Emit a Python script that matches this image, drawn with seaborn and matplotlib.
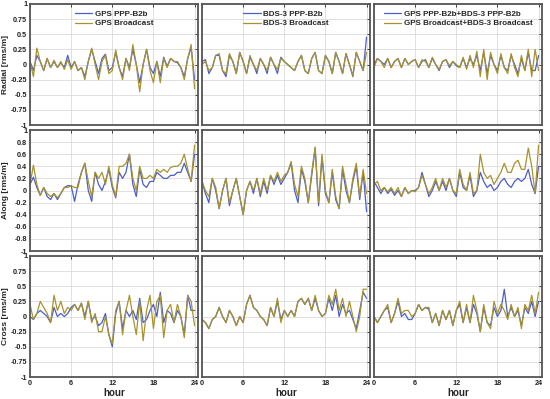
import numpy as np
import pandas as pd
import matplotlib
matplotlib.use('Agg')
import matplotlib.pyplot as plt
import seaborn as sns
from matplotlib.ticker import FuncFormatter

# sampling every half hour
hours = np.arange(0, 24.5, 0.5)

# ---- Radial ----
radial_gps_ppp = [0.05, -0.1, 0.15, 0.05, -0.1, 0.1, -0.05, 0.05, -0.05, 0.03,
                  -0.05, 0.15, -0.05, 0.05, -0.1, -0.05, -0.2, 0.05, 0.25, 0.05,
                  -0.15, 0.1, 0.17, -0.1, -0.05, 0.2, -0.05, -0.2, 0.1, -0.05,
                  0.25, 0.0, -0.3, 0.0, 0.25, -0.05, -0.15, 0.05, -0.2, 0.12,
                  -0.03, 0.1, 0.05, 0.03, -0.05, -0.2, 0.1, 0.28, -0.25]
radial_gps_brdc = [0.05, -0.2, 0.27, 0.05, -0.1, 0.1, -0.05, 0.07, -0.05, 0.05,
                   -0.08, 0.08, -0.08, 0.05, -0.1, -0.05, -0.25, 0.05, 0.27, 0.0,
                   -0.25, 0.05, 0.15, -0.15, -0.1, 0.24, -0.05, -0.25, 0.1, -0.1,
                   0.33, 0.0, -0.45, 0.0, 0.25, -0.1, -0.3, 0.05, -0.3, 0.1,
                   -0.05, 0.1, 0.05, 0.05, -0.05, -0.25, 0.1, 0.33, -0.4]
radial_bds_ppp = [0.05, 0.08, -0.15, -0.05, 0.15, 0.15, -0.1, -0.2, 0.15, 0.05,
                  -0.15, 0.2, 0.05, -0.15, 0.12, 0.0, -0.15, 0.1, 0.0, -0.15,
                  0.12, 0.0, -0.15, 0.12, 0.05, 0.0, -0.05, -0.1, 0.05, 0.15,
                  -0.1, -0.15, 0.1, 0.2, -0.1, -0.15, 0.15, 0.05, -0.15, 0.2,
                  0.05, -0.15, 0.18, 0.0, -0.2, 0.2, 0.05, -0.1, 0.45]
radial_bds_brdc = [0.0, 0.05, -0.1, -0.05, 0.15, 0.18, -0.1, -0.15, 0.18, 0.05,
                   -0.15, 0.2, 0.05, -0.15, 0.15, 0.0, -0.1, 0.1, 0.0, -0.1,
                   0.12, 0.0, -0.08, 0.1, 0.05, 0.0, -0.05, -0.1, 0.05, 0.15,
                   -0.1, -0.15, 0.1, 0.2, -0.1, -0.15, 0.15, 0.05, -0.15, 0.2,
                   0.05, -0.15, 0.18, 0.0, -0.18, 0.2, 0.05, -0.1, 0.2]
radial_all_ppp = [0.0, 0.1, 0.05, 0.0, 0.1, -0.05, 0.05, 0.1, -0.05, 0.1,
                  0.0, 0.05, 0.08, -0.05, 0.05, 0.08, -0.05, 0.1, 0.0, -0.1,
                  0.05, 0.08, -0.05, 0.05, -0.02, -0.05, 0.1, -0.05, 0.1, 0.0,
                  0.15, -0.1, 0.2, -0.15, 0.15, 0.0, -0.1, 0.15, -0.05, -0.1,
                  0.15, 0.0, -0.15, 0.1, -0.1, 0.2, -0.1, -0.1, 0.15]
radial_all_brdc = [-0.05, 0.1, 0.05, -0.05, 0.1, -0.05, 0.05, 0.1, -0.05, 0.1,
                   0.0, 0.05, 0.08, -0.05, 0.08, 0.05, -0.05, 0.12, 0.0, -0.08,
                   0.05, 0.08, -0.02, 0.05, 0.0, -0.05, 0.12, -0.08, 0.15, -0.05,
                   0.22, -0.2, 0.25, -0.25, 0.2, 0.0, -0.15, 0.18, -0.05, -0.15,
                   0.18, -0.05, -0.2, 0.15, -0.1, 0.25, -0.2, 0.25, -0.1]

# ---- Along ----
along_gps_ppp = [0.1, 0.22, 0.05, -0.08, 0.05, -0.1, -0.15, -0.05, -0.15, -0.05,
                 0.05, 0.08, 0.08, -0.18, 0.1, 0.3, 0.45, 0.0, -0.18, 0.3,
                 0.1, 0.0, 0.15, 0.35, 0.05, -0.12, 0.3, 0.2, 0.3, 0.6,
                 0.1, -0.1, 0.35, 0.1, 0.05, 0.15, 0.15, 0.3, 0.25, 0.2,
                 0.2, 0.25, 0.25, 0.3, 0.3, 0.45, 0.3, 0.15, 0.6]
along_gps_brdc = [0.1, 0.42, 0.1, -0.08, 0.05, -0.05, -0.1, -0.05, -0.12, -0.05,
                  0.05, 0.05, 0.08, 0.05, 0.05, 0.3, 0.45, 0.15, -0.1, 0.3,
                  0.2, 0.3, 0.1, 0.4, 0.1, -0.1, 0.4, 0.4, 0.45, 0.6,
                  0.2, 0.0, 0.4, 0.2, 0.2, 0.25, 0.2, 0.35, 0.3, 0.35,
                  0.3, 0.38, 0.4, 0.4, 0.45, 0.6, 0.35, 0.15, 0.75]
along_bds_ppp = [0.15, -0.05, -0.2, 0.2, 0.0, -0.3, 0.0, 0.2, -0.25, 0.0,
                 0.2, -0.1, -0.4, 0.0, 0.15, -0.05, 0.2, -0.1, 0.15, -0.05,
                 0.25, 0.1, 0.25, 0.1, 0.2, 0.3, 0.45, 0.0, -0.2, 0.35,
                 0.15, -0.2, 0.25, 0.7, -0.25, 0.55, -0.05, -0.2, 0.3, -0.15,
                 -0.3, 0.35, 0.0, -0.2, 0.15, 0.4, -0.15, 0.3, -0.35]
along_bds_brdc = [0.15, 0.0, -0.1, 0.2, 0.05, -0.3, 0.0, 0.2, -0.2, 0.0,
                  0.2, -0.1, -0.4, 0.0, 0.15, 0.0, 0.2, -0.05, 0.2, 0.0,
                  0.25, 0.15, 0.3, 0.15, 0.25, 0.3, 0.48, 0.1, -0.1, 0.4,
                  0.2, -0.2, 0.3, 0.72, -0.2, 0.6, 0.0, -0.2, 0.35, -0.1,
                  -0.3, 0.4, 0.1, -0.2, 0.2, 0.45, -0.1, 0.35, -0.05]
along_all_ppp = [0.15, 0.05, -0.05, 0.05, -0.05, 0.02, -0.08, 0.0, -0.1, 0.05,
                 -0.05, 0.0, 0.0, 0.05, 0.3, 0.1, -0.1, 0.0, 0.15, 0.0,
                 0.15, 0.0, 0.2, 0.0, -0.1, 0.3, 0.05, 0.0, 0.25, -0.1,
                 0.0, 0.3, 0.15, 0.05, 0.1, 0.0, 0.05, 0.15, 0.2, 0.1,
                 0.05, 0.15, 0.2, 0.15, 0.2, 0.35, 0.1, -0.05, 0.4]
along_all_brdc = [0.1, 0.15, 0.0, 0.05, -0.02, 0.05, -0.05, 0.05, -0.1, 0.05,
                  -0.05, 0.0, -0.02, 0.05, 0.25, 0.1, -0.05, 0.05, 0.2, 0.0,
                  0.2, 0.05, 0.2, 0.0, -0.05, 0.35, 0.1, 0.0, 0.3, -0.05,
                  0.0, 0.6, 0.3, 0.2, 0.25, 0.1, 0.2, 0.3, 0.45, 0.3,
                  0.3, 0.45, 0.5, 0.35, 0.35, 0.7, 0.4, -0.05, 0.75]

# ---- Cross ----
cross_gps_ppp = [0.0, -0.05, 0.05, 0.1, 0.05, 0.0, -0.1, 0.15, 0.0, 0.05,
                 0.0, 0.05, 0.15, 0.2, 0.1, 0.22, 0.0, 0.25, -0.05, 0.0,
                 -0.15, -0.1, 0.05, -0.3, -0.5, 0.05, 0.25, -0.2, 0.1, 0.0,
                 0.1, -0.05, 0.3, -0.1, -0.05, 0.1, 0.2, 0.0, 0.4, -0.1,
                 0.1, 0.05, -0.1, 0.1, 0.0, -0.3, 0.35, 0.1, 0.1]
cross_gps_brdc = [0.2, -0.05, 0.05, 0.25, 0.15, 0.05, -0.1, 0.35, 0.1, 0.25,
                  0.05, 0.15, 0.1, 0.2, 0.1, 0.22, -0.05, 0.25, -0.1, 0.05,
                  -0.25, -0.25, 0.0, -0.3, -0.45, 0.1, 0.25, -0.3, 0.1, 0.35,
                  0.0, -0.3, 0.25, -0.4, 0.1, 0.35, -0.2, 0.25, 0.35, -0.35,
                  0.1, 0.2, -0.1, 0.2, 0.0, -0.35, 0.35, 0.25, -0.15]
cross_bds_ppp = [-0.05, -0.1, -0.2, -0.05, 0.0, 0.15, 0.0, -0.1, 0.1, 0.0,
                 -0.15, 0.0, -0.1, 0.2, 0.35, 0.15, 0.1, 0.0, -0.05, -0.15,
                 0.15, 0.0, 0.25, -0.05, 0.1, 0.0, 0.1, 0.0, 0.25, 0.3,
                 0.2, 0.3, 0.1, 0.3, 0.1, 0.0, 0.05, 0.3, 0.1, 0.35,
                 0.0, 0.2, 0.05, 0.1, -0.05, -0.2, 0.1, 0.4, 0.3]
cross_bds_brdc = [-0.05, -0.1, -0.2, -0.05, 0.0, 0.15, 0.0, -0.1, 0.1, 0.0,
                  -0.15, 0.0, -0.1, 0.2, 0.35, 0.15, 0.1, 0.0, -0.05, -0.15,
                  0.15, 0.0, 0.3, -0.1, 0.1, 0.0, 0.1, 0.0, 0.25, 0.3,
                  0.2, 0.3, 0.1, 0.35, 0.1, 0.0, 0.05, 0.35, 0.2, 0.45,
                  0.1, 0.3, 0.0, 0.25, 0.0, -0.25, 0.0, 0.45, 0.45]
cross_all_ppp = [0.0, -0.1, 0.0, 0.1, 0.15, -0.1, 0.05, 0.25, 0.0, 0.05,
                 -0.05, -0.05, 0.05, 0.2, 0.1, 0.15, 0.12, -0.1, 0.05, -0.15,
                 0.1, -0.05, 0.1, -0.15, 0.1, 0.2, -0.1, 0.15, -0.1, 0.2,
                 0.05, -0.25, 0.15, -0.1, -0.15, 0.15, 0.0, 0.1, 0.45, 0.0,
                 0.15, 0.0, 0.1, -0.15, 0.15, 0.05, 0.25, 0.0, 0.25]
cross_all_brdc = [0.0, -0.1, 0.0, 0.1, 0.2, -0.1, 0.05, 0.3, 0.05, 0.1,
                  0.1, 0.0, 0.05, 0.2, 0.1, 0.15, 0.15, -0.1, 0.05, -0.15,
                  0.1, -0.05, 0.1, -0.15, 0.1, 0.25, -0.1, 0.2, -0.1, 0.35,
                  0.1, -0.25, 0.2, -0.1, -0.2, 0.25, 0.05, 0.2, 0.1, -0.05,
                  0.2, 0.0, 0.15, -0.2, 0.2, 0.1, 0.35, 0.05, 0.4]

row_names = ['Radial [rms/m]', 'Along [rms/m]', 'Cross [rms/m]']
legend_ppp = ['GPS PPP-B2b', 'BDS-3 PPP-B2b', 'GPS PPP-B2b+BDS-3 PPP-B2b']
legend_brdc = ['GPS Broadcast', 'BDS-3 Broadcast', 'GPS Broadcast+BDS-3 Broadcast']
x_ticks = [0, 6, 12, 18, 24]
y_ticks_rad = [-1, -0.75, -0.5, -0.25, 0, 0.25, 0.5, 0.75, 1]
y_ticks_along = [-1, -0.8, -0.6, -0.4, -0.2, 0, 0.2, 0.4, 0.6, 0.8, 1]

ppp_data = [[radial_gps_ppp, radial_bds_ppp, radial_all_ppp],
            [along_gps_ppp, along_bds_ppp, along_all_ppp],
            [cross_gps_ppp, cross_bds_ppp, cross_all_ppp]]
brdc_data = [[radial_gps_brdc, radial_bds_brdc, radial_all_brdc],
             [along_gps_brdc, along_bds_brdc, along_all_brdc],
             [cross_gps_brdc, cross_bds_brdc, cross_all_brdc]]
y_ticks_rows = [y_ticks_rad, y_ticks_along, y_ticks_rad]

sns.set_theme(style='white')
plt.rcParams['font.family'] = ['Liberation Sans', 'DejaVu Sans']
plt.rcParams['font.weight'] = 'bold'

col_blue = '#4a5ec8'
col_gold = '#a8922e'

fig = plt.figure(figsize=(5.5, 3.99), dpi=100)
W, H = 550, 399
lefts = [30, 202, 374]
tops = [4, 130, 256]
aw, ah = 168, 121

fmt = FuncFormatter(lambda v, p: '%g' % v)

for r in range(3):
    for c in range(3):
        ax = fig.add_axes([lefts[c] / W, 1 - (tops[r] + ah) / H, aw / W, ah / H])
        df = pd.DataFrame({'hour': hours,
                           legend_ppp[c]: ppp_data[r][c],
                           legend_brdc[c]: brdc_data[r][c]})
        sns.lineplot(data=df, x='hour', y=legend_ppp[c], ax=ax, color=col_blue,
                     lw=0.9, label=legend_ppp[c])
        sns.lineplot(data=df, x='hour', y=legend_brdc[c], ax=ax, color=col_gold,
                     lw=0.9, label=legend_brdc[c])
        ax.set_xlim(0, 24.5)
        ax.set_ylim(-1, 1)
        ax.set_xticks(x_ticks)
        ax.set_yticks(y_ticks_rows[r])
        ax.yaxis.set_major_formatter(fmt)
        ax.grid(True, color='#dadada', lw=0.6)
        ax.tick_params(direction='in', length=2.5, width=0.6, top=True, right=True,
                       labelsize=5.2, pad=2, colors='#222222')
        for s in ax.spines.values():
            s.set_color('#555555')
            s.set_linewidth(1.3)
        ax.set_ylabel('')
        ax.set_xlabel('')
        if c == 0:
            ax.set_ylabel(row_names[r], fontsize=6, fontweight='bold')
            ax.yaxis.set_label_coords(-0.125, 0.5)
        else:
            ax.set_yticklabels([])
        if r == 2:
            ax.set_xlabel('hour', fontsize=7, fontweight='bold', labelpad=1)
        else:
            ax.set_xticklabels([])
        if r == 0:
            ax.legend(loc='upper center', frameon=False,
                      handlelength=2.2, handletextpad=0.3, labelspacing=0.2,
                      borderaxespad=0.4, prop={'weight': 'bold', 'size': 5.8})
        else:
            ax.get_legend().remove()

fig.savefig('out.png', dpi=100)
